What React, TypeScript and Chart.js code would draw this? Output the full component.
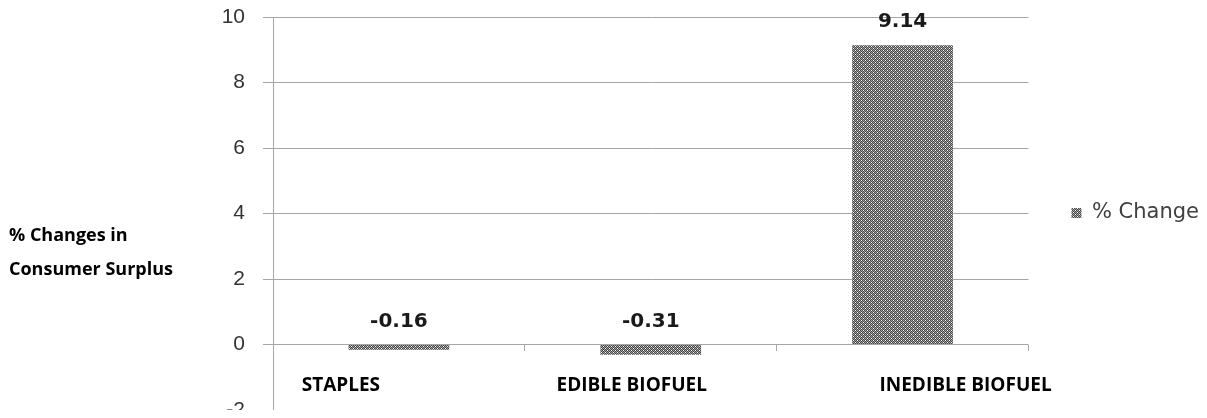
import React, { useEffect, useRef } from "react";
import { Chart, registerables } from "chart.js";

Chart.register(...registerables);

const categories = ["STAPLES", "EDIBLE BIOFUEL", "INEDIBLE BIOFUEL"];
const seriesName = "% Change";
const percentChange = [-0.16, -0.31, 9.14];
const valueLabels = ["-0.16", "-0.31", "9.14"];
const yTitleLines = ["% Changes in", "Consumer Surplus"];
const yMin = -2;
const yMax = 10;
const yStep = 2;

// style constants (horizontal shift of each category caption)
const CATEGORY_LABEL_SHIFT = [-58, -19, 63];
const GRID = "#a6a6a6";

function makePattern(ctx: CanvasRenderingContext2D): CanvasPattern | string {
  const c = document.createElement("canvas");
  c.width = 4;
  c.height = 4;
  const g = c.getContext("2d");
  if (!g) return "#8a8a8a";
  g.fillStyle = "#a0a0a0";
  g.fillRect(0, 0, 4, 4);
  g.fillStyle = "#454545";
  for (let y = 0; y < 4; y++)
    for (let x = 0; x < 4; x++) if ((x + y) % 2 === 0) g.fillRect(x, y, 1, 1);
  g.fillStyle = "#ffffff";
  g.fillRect(1, 0, 1, 1);
  g.fillRect(3, 2, 1, 1);
  return ctx.createPattern(c, "repeat") || "#8a8a8a";
}

const labelsPlugin = {
  id: "customLabels",
  afterDatasetsDraw(chart: any) {
    const { ctx, chartArea } = chart;
    const yScale = chart.scales.y;
    const xScale = chart.scales.x;
    const meta = chart.getDatasetMeta(0);
    ctx.save();
    // value labels
    ctx.font = "bold 20px 'DejaVu Sans'";
    ctx.fillStyle = "#1a1a1a";
    ctx.textAlign = "center";
    ctx.textBaseline = "middle";
    meta.data.forEach((el: any, i: number) => {
      const v = percentChange[i];
      const y = yScale.getPixelForValue(Math.max(v, 0)) - 23;
      ctx.fillText(valueLabels[i], el.x, y);
    });
    // category labels
    ctx.font = "bold 19px 'Open Sans'";
    ctx.fillStyle = "#000000";
    const zeroY = yScale.getPixelForValue(0);
    categories.forEach((c, i) => {
      const x = xScale.getPixelForValue(i) + CATEGORY_LABEL_SHIFT[i];
      ctx.fillText(c, x, zeroY + 41);
    });
    // y title
    ctx.font = "bold 18px 'Open Sans'";
    ctx.textAlign = "left";
    const mid = (chartArea.top + chartArea.bottom) / 2;
    yTitleLines.forEach((t, i) => {
      ctx.fillText(t, 1, mid + 22 + i * 34);
    });
    ctx.restore();
  },
};

export default function App() {
  const ref = useRef<HTMLCanvasElement | null>(null);
  useEffect(() => {
    const canvas = ref.current;
    if (!canvas) return;
    const ctx = canvas.getContext("2d");
    if (!ctx) return;
    const pattern = makePattern(ctx);
    const chart = new Chart(ctx, {
      type: "bar",
      data: {
        labels: categories,
        datasets: [
          {
            label: seriesName,
            data: percentChange,
            backgroundColor: pattern as any,
            borderWidth: 0,
            categoryPercentage: 1,
            barPercentage: 0.4,
          },
        ],
      },
      options: {
        animation: false,
        responsive: true,
        maintainAspectRatio: false,
        layout: { padding: { left: 0, right: -2, top: 0, bottom: 0 } },
        plugins: {
          legend: {
            position: "right",
            labels: {
              boxWidth: 10,
              boxHeight: 10,
              padding: 43,
              color: "#404040",
              font: { family: "'DejaVu Sans'", size: 21 },
            },
          },
          tooltip: { enabled: false },
        },
        scales: {
          x: {
            position: { y: 0 } as any,
            afterFit: (s: any) => {
              s.height = 0;
            },
            grid: {
              offset: true,
              drawOnChartArea: false,
              drawTicks: true,
              tickLength: 6,
              color: GRID,
            },
            border: { display: false },
            ticks: { display: false },
          },
          y: {
            min: yMin,
            max: yMax,
            afterFit: (s: any) => {
              s.width = 265;
              s.paddingTop = 9;
              s.paddingBottom = 8;
            },
            ticks: {
              stepSize: yStep,
              padding: 18,
              color: "#333333",
              font: { family: "'Liberation Sans'", size: 21 },
            },
            grid: { color: GRID, tickLength: 10, drawTicks: true },
            border: { display: true, color: GRID },
          },
        },
      },
      plugins: [labelsPlugin],
    });
    return () => chart.destroy();
  }, []);
  return (
    <div style={{ width: 1199, height: 410, marginBottom: -8, position: "relative" }}>
      <canvas ref={ref} />
    </div>
  );
}
